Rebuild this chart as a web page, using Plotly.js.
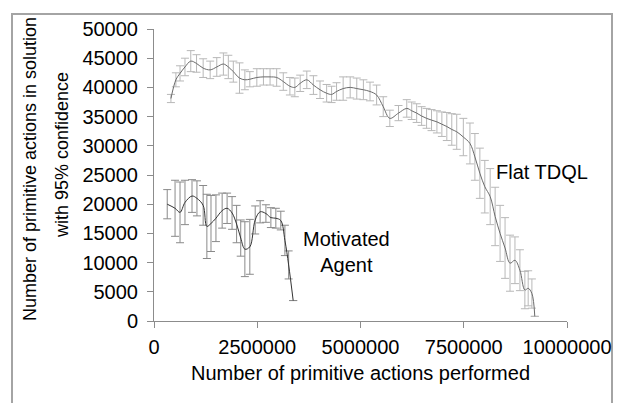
<!DOCTYPE html>
<html>
<head>
<meta charset="utf-8">
<script src="https://cdn.plot.ly/plotly-3.0.1.min.js"></script>
<style>html,body{margin:0;padding:0;background:#fff;}#chart{width:623px;height:403px;}</style>
</head>
<body>
<div id="chart"></div>
<script>
// Flat TDQL series
const flatX = [410000,530000,630000,750000,890000,1030000,1190000,1360000,1520000,1680000,1800000,1920000,2070000,2200000,2320000,2490000,2650000,2810000,2970000,3130000,3290000,3410000,3540000,3700000,3860000,4020000,4180000,4300000,4420000,4580000,4750000,4910000,5070000,5230000,5390000,5550000,5710000,5920000,6120000,6240000,6360000,6480000,6600000,6720000,6850000,6970000,7090000,7210000,7330000,7490000,7650000,7770000,7890000,8010000,8140000,8260000,8380000,8500000,8620000,8740000,8860000,8980000,9060000,9150000,9220000];
const flatY = [38100,41300,42400,43500,44500,44100,43300,43000,43500,44000,43500,42700,41600,41300,41400,41700,41800,41800,41700,41000,40200,40000,40700,41300,40400,39600,39000,38800,39300,39800,40000,39800,39600,39300,38700,36700,34700,35600,36400,36000,35600,35100,34700,34400,34100,33700,33300,32800,32400,31500,30400,28100,25300,23000,21300,17900,15000,12500,9900,10400,8700,5300,5600,4700,800];
const flatErr = [700,1200,1300,1500,1800,1500,1600,1500,1600,1900,2000,1800,2600,1700,1300,1500,1400,1400,1500,1500,1500,1600,1400,1500,1600,1500,1500,1400,1500,2000,1800,1800,1700,1600,1700,1700,1400,1300,1500,1500,1600,1600,1700,1800,1900,2100,2400,2700,3000,3200,3500,4000,4300,4500,4800,5000,4800,5200,4800,4000,3500,3200,3000,2500,null];

// Motivated Agent series
const motX = [320000,510000,630000,750000,920000,1040000,1190000,1280000,1380000,1500000,1650000,1770000,1890000,2000000,2100000,2200000,2320000,2450000,2570000,2710000,2830000,2950000,3070000,3170000,3260000,3370000];
const motY = [20000,19300,18600,20300,21400,21000,19800,16200,16700,17600,18900,19300,18500,16600,14200,12300,12700,17300,18700,18400,17700,17600,17200,13800,9600,3500];
const motErr = [2500,4800,5200,3800,2800,3000,3400,5500,4800,4000,3000,2600,2800,3200,3100,4700,4700,2400,1900,1500,1700,1700,1600,2600,2400,null];

// Axis ticks
const xTickVals = [0,2500000,5000000,7500000,10000000];
const xTickText = ['0','2500000','5000000','7500000','10000000'];
const yTickVals = [0,5000,10000,15000,20000,25000,30000,35000,40000,45000,50000];
const yTickText = ['0','5000','10000','15000','20000','25000','30000','35000','40000','45000','50000'];

const FONT = 'Liberation Sans, Arial, sans-serif';

const traces = [
  {
    x: flatX, y: flatY, type: 'scatter', mode: 'lines', name: 'Flat TDQL',
    line: {color: '#6a6a6a', width: 1, shape: 'spline', smoothing: 1},
    error_y: {type: 'data', array: flatErr, visible: true, color: '#b8b8b8', thickness: 1, width: 4}
  },
  {
    x: motX, y: motY, type: 'scatter', mode: 'lines', name: 'Motivated Agent',
    line: {color: '#333333', width: 1, shape: 'spline', smoothing: 1},
    error_y: {type: 'data', array: motErr, visible: true, color: '#8a8a8a', thickness: 1, width: 4}
  }
];

const layout = {
  width: 623, height: 403,
  margin: {l: 154, r: 56, t: 29, b: 82, pad: 0},
  paper_bgcolor: '#ffffff', plot_bgcolor: '#ffffff',
  showlegend: false,
  font: {family: FONT, color: '#000', size: 20},
  xaxis: {
    range: [0, 10000000], tickvals: xTickVals, ticktext: xTickText,
    showgrid: false, zeroline: false, showline: true, linecolor: '#8c8c8c', linewidth: 1,
    ticks: 'outside', ticklen: 6, tickcolor: '#8c8c8c', tickwidth: 1,
    tickfont: {family: FONT, size: 20, color: '#000'},
    ticklabelstandoff: 2,
    title: {text: 'Number of primitive actions performed', font: {family: FONT, size: 20, color: '#000'}, standoff: 8},
    automargin: false
  },
  yaxis: {
    range: [0, 50000], tickvals: yTickVals, ticktext: yTickText,
    showgrid: false, zeroline: false, showline: true, linecolor: '#8c8c8c', linewidth: 1,
    ticks: 'outside', ticklen: 6, tickcolor: '#8c8c8c', tickwidth: 1,
    tickfont: {family: FONT, size: 20, color: '#000'},
    ticklabelstandoff: 5,
    automargin: false
  },
  annotations: [
    {text: 'Flat TDQL', xref: 'x', yref: 'y', x: 9390000, y: 25500, showarrow: false,
     xanchor: 'center', yanchor: 'middle', font: {family: FONT, size: 20, color: '#000'}},
    {text: 'Motivated<br>Agent', xref: 'x', yref: 'y', x: 4650000, y: 11800, showarrow: false,
     xanchor: 'center', yanchor: 'middle', font: {family: FONT, size: 20, color: '#000'}},
    {text: 'Number of primitive actions in solution', xref: 'paper', yref: 'paper',
     x: (30 - 154) / 413, y: (321 - 323) / 292, textangle: -90, showarrow: false,
     xanchor: 'center', yanchor: 'bottom', font: {family: FONT, size: 18, color: '#000'}},
    {text: 'with 95% confidence', xref: 'paper', yref: 'paper',
     x: (62 - 154) / 413, y: (321 - 155) / 292, textangle: -90, showarrow: false,
     xanchor: 'center', yanchor: 'middle', font: {family: FONT, size: 18, color: '#000'}}
  ],
  shapes: [
    {type: 'rect', xref: 'paper', yref: 'paper',
     x0: (12 - 154) / 413, x1: (612 - 154) / 413, y0: (321 - 420) / 292, y1: (321 - 14) / 292,
     line: {color: '#a4a4a4', width: 2}, fillcolor: 'rgba(0,0,0,0)', layer: 'below'}
  ]
};

Plotly.newPlot('chart', traces, layout, {displayModeBar: false, staticPlot: true});
</script>
</body>
</html>
